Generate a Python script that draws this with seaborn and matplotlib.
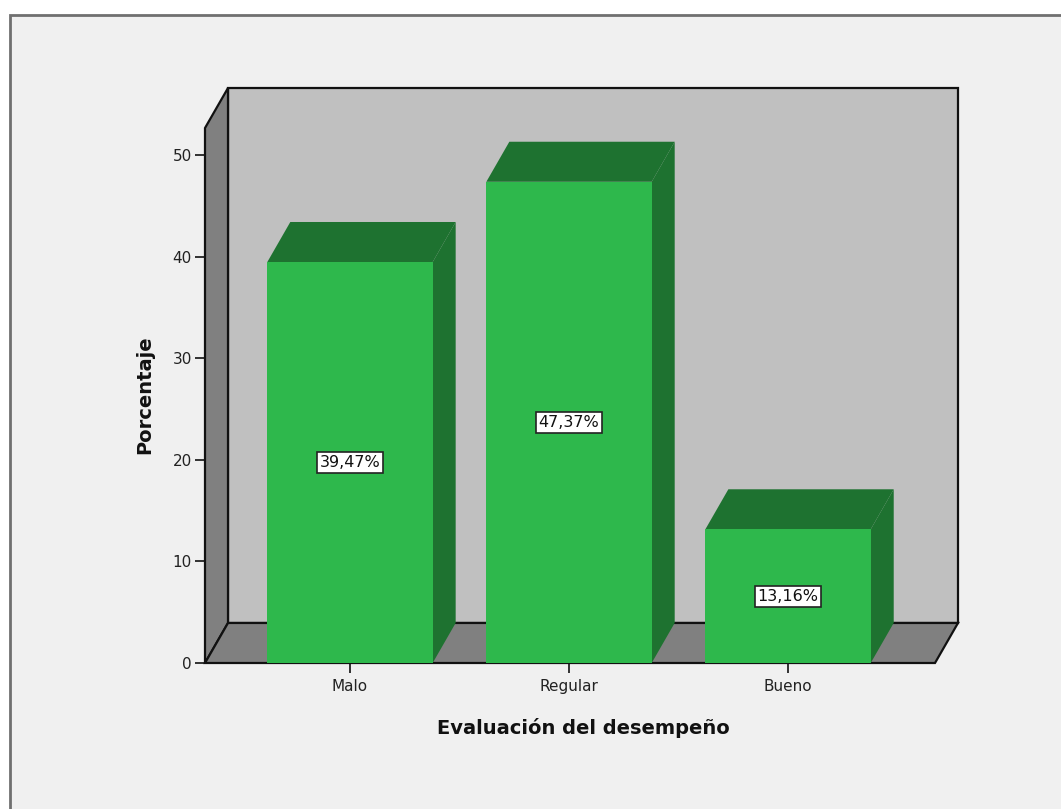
import matplotlib
matplotlib.use("Agg")
import matplotlib.pyplot as plt
from matplotlib.patches import Polygon, Rectangle
import seaborn as sns
import pandas as pd

# Data
categories = ["Malo", "Regular", "Bueno"]
porcentajes = [39.47, 47.37, 13.16]
etiquetas = ["39,47%", "47,37%", "13,16%"]
y_ticks = [0, 10, 20, 30, 40, 50]

sns.set_theme(style="white")
plt.rcParams["font.family"] = ["DejaVu Sans"]

W, H, DPI = 1061, 809, 100
fig = plt.figure(figsize=(W / DPI, H / DPI), dpi=DPI)
fig.patch.set_facecolor("white")

# Outer chart frame
frame = Rectangle((10 / W, -0.01), 1.02, 1 - 15 / H + 0.01, transform=fig.transFigure,
                  facecolor="#F0F0F0", edgecolor="#707070", linewidth=2.0, zorder=-5)
fig.patches.append(frame)

ax = fig.add_axes([205 / W, 146 / H, 753 / W, 575 / H])
ax.set_zorder(1)
ax.set_facecolor("none")

df = pd.DataFrame({"cat": categories, "pct": porcentajes})
bar_w = 0.755
sns.barplot(data=df, x="cat", y="pct", color="#2EB84C", saturation=1, width=bar_w,
            ax=ax, zorder=5, linewidth=0)

# 3D geometry in data units
dx, dy = 0.105, 3.94
x_left, x_right = -0.662, 2.671
y_top = 56.6
ax.set_xlim(x_left, x_right + dx)
ax.set_ylim(0, y_top)

wall_gray = "#C0C0C0"
dark_gray = "#808080"
dark_green = "#1E7230"
edge = "#111111"

# Back wall
ax.add_patch(Polygon([(x_left + dx, dy), (x_right + dx, dy), (x_right + dx, y_top),
                      (x_left + dx, y_top)], closed=True, facecolor=wall_gray,
                     edgecolor=edge, linewidth=1.6, zorder=1, clip_on=False))
# Left side wall
ax.add_patch(Polygon([(x_left, 0), (x_left + dx, dy), (x_left + dx, y_top),
                      (x_left, y_top - dy)], closed=True, facecolor=dark_gray,
                     edgecolor=edge, linewidth=1.6, zorder=2, clip_on=False))
# Floor
ax.add_patch(Polygon([(x_left, 0), (x_right, 0), (x_right + dx, dy), (x_left + dx, dy)],
                     closed=True, facecolor=dark_gray, edgecolor=edge, linewidth=1.6,
                     zorder=2, clip_on=False))

# Bar tops, sides and value labels
for i, (v, lab) in enumerate(zip(porcentajes, etiquetas)):
    l, r = i - bar_w / 2, i + bar_w / 2
    ax.add_patch(Polygon([(l, v), (r, v), (r + dx, v + dy), (l + dx, v + dy)], closed=True,
                         facecolor=dark_green, edgecolor="none", zorder=4, clip_on=False))
    ax.add_patch(Polygon([(r, 0), (r + dx, dy), (r + dx, v + dy), (r, v)], closed=True,
                         facecolor=dark_green, edgecolor="none", zorder=4, clip_on=False))
    ax.text(i, v / 2, lab, ha="center", va="center", fontsize=11.5, color="#111111",
            zorder=7,
            bbox=dict(boxstyle="square,pad=0.18", facecolor="white", edgecolor="#222222",
                      linewidth=1.2))

for s in ax.spines.values():
    s.set_visible(False)

ax.set_yticks(y_ticks)
ax.set_yticklabels([str(t) for t in y_ticks])
ax.tick_params(axis="both", which="both", direction="out", length=7.5, width=1.3,
               color="#222222", labelsize=11, labelcolor="#222222", left=True, bottom=True)
ax.tick_params(axis="x", pad=4)
ax.tick_params(axis="y", pad=2)

ax.set_xlabel("Evaluación del desempeño", fontsize=14, fontweight="bold", color="#111111")
ax.set_ylabel("Porcentaje", fontsize=14, fontweight="bold", color="#111111")
ax.xaxis.set_label_coords((583 - 205) / 753, -(728 - 663) / 575)
ax.yaxis.set_label_coords(-(205 - 145) / 753, (663 - 395) / 575)
ax.xaxis.label.set_va("center")
ax.yaxis.label.set_va("center")

fig.savefig("out.png", dpi=DPI)
